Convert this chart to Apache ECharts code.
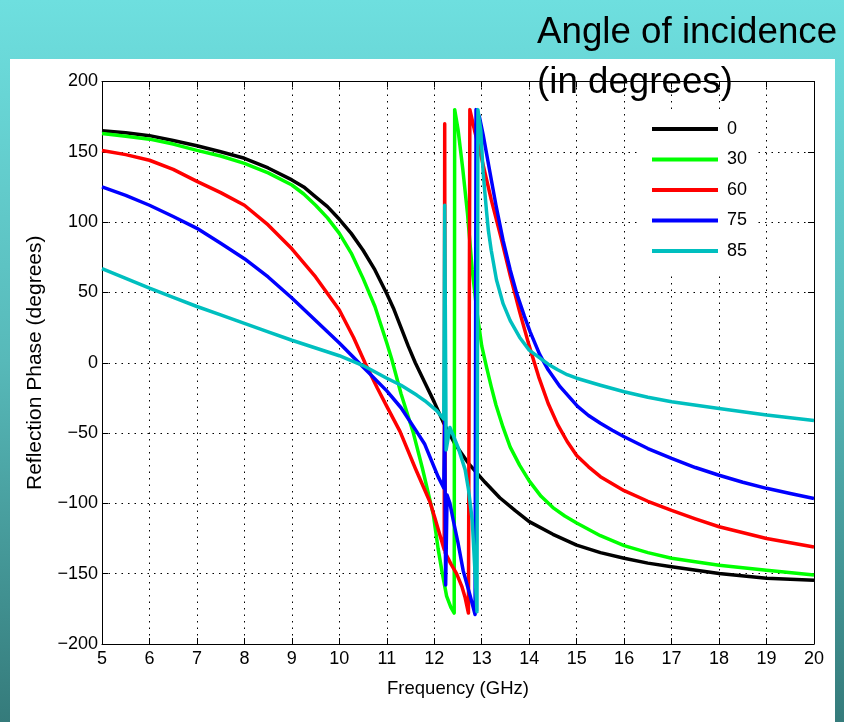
<!DOCTYPE html>
<html><head><meta charset="utf-8">
<script src="https://cdn.jsdelivr.net/npm/echarts@6/dist/echarts.min.js"></script>
<style>html,body{margin:0;padding:0;width:844px;height:722px;overflow:hidden}#c{width:844px;height:722px}</style>
</head><body><div id="c"></div>
<script>
// Tick values
const xTicks = [5,6,7,8,9,10,11,12,13,14,15,16,17,18,19,20];
const yTicks = [-200,-150,-100,-50,0,50,100,150,200];

// Series names (angle of incidence) and colours
const seriesNames = ['0','30','60','75','85'];
const seriesColors = ['#000000','#00ff00','#ff0000','#0000ff','#00bfbf'];

// 0 degrees
const freq0 = [5,5.5,6,6.5,7,7.5,8,8.5,9,9.25,9.5,9.75,10,10.25,10.5,10.75,11,11.15,11.3,11.45,11.6,11.8,12.0,12.2,12.44,12.72,13.07,13.38,13.7,14,14.5,15,15.5,16,16.5,17,18,19,20];
const phase0 = [165,163.5,161.5,158,154.3,150,145.4,138.5,130,125,118,111,102,92,80,66,49,38,25,12,0,-14,-28,-43,-58,-71.5,-85,-96,-105,-113,-122,-129.7,-135,-139,-142.5,-145,-149.8,-153.3,-154.6];

// 30 degrees
const freq30 = [5,5.5,6,6.5,7,7.5,8,8.5,9,9.25,9.5,9.75,10,10.25,10.5,10.75,11,11.1,11.3,11.56,11.75,11.98,12.08,12.16,12.26,12.35,12.42,12.43,12.5,12.6,12.7,12.8,12.9,13.0,13.1,13.2,13.3,13.45,13.6,13.8,14.0,14.25,14.5,14.75,15,15.5,16,16.5,17,18,19,20];
const phase30 = [163,161,159,155.5,151,147,141.8,135,126.4,120,112,103,92,78,60,40,14,3,-22,-50,-75,-108,-132,-148,-166,-174,-178,180,166,138,106,66,36,12,-3,-17,-30,-46,-60,-73,-84,-95,-103,-109,-114,-123,-130,-135,-139,-144,-147.5,-151];

// 60 degrees
const freq60 = [5,5.5,6,6.5,7,7.5,8,8.5,9,9.5,10,10.3,10.54,10.8,11,11.28,11.6,11.91,12.01,12.21,12.22,12.23,12.35,12.47,12.58,12.65,12.72,12.75,12.85,13.0,13.2,13.4,13.6,13.8,14.0,14.2,14.4,14.6,14.8,15,15.25,15.5,16,16.5,17,17.5,18,19,20];
const phase60 = [151,148,144,137.5,129,121,112,98,81,61,37.5,18,0,-18,-31,-49,-75,-99,-110,-133,170,-135,-143,-150,-159,-167,-178,180,165,145,116,90,62,36,12,-10,-29,-44,-56,-66,-74,-81,-91,-98.5,-105,-111,-116.6,-125,-131];

// 75 degrees
const freq75 = [5,5.5,6,6.5,7,7.5,8,8.5,9,9.5,10,10.5,11,11.3,11.63,11.8,12.08,12.2,12.22,12.24,12.27,12.33,12.4,12.5,12.61,12.75,12.86,12.88,12.95,13.03,13.17,13.3,13.45,13.6,13.74,13.9,14.02,14.22,14.4,14.65,15.02,15.25,15.5,15.75,16,16.5,17,17.5,18,18.5,19,19.5,20];
const phase75 = [125,119,112,104,95.6,85,74,61,46,30,14,-3,-20,-32,-49,-58,-81,-89,-40,-158,-94,-100,-112,-128,-148,-165,-179,180,175,162,136,112,87,66,49,33,22,6,-5,-17,-31,-37.5,-43,-48,-52.6,-61,-68,-74.5,-80,-85,-89.3,-93,-96.5];

// 85 degrees
const freq85 = [5,5.5,6,6.5,7,7.5,8,8.5,9,9.5,10,10.5,11,11.3,11.63,11.8,12.05,12.2,12.22,12.25,12.33,12.5,12.65,12.72,12.8,12.86,12.9,12.92,12.98,13.03,13.1,13.14,13.2,13.31,13.45,13.6,13.8,14.0,14.2,14.4,14.6,14.8,15,15.5,16,16.5,17,18,19,20];
const phase85 = [67,60,53,46.5,40,34,28,22,16,10.5,5,-2,-11,-16,-23,-27,-34,-40,112,-62,-46,-60,-76,-90,-112,-150,-177,180,165,135,108,94,80,59,42,30,18,9,4,-1,-5,-8.5,-11,-16,-20.6,-24.5,-27.7,-32.5,-37.2,-41];

const freqs = [freq0,freq30,freq60,freq75,freq85];
const phases = [phase0,phase30,phase60,phase75,phase85];

const FONT = '"Liberation Sans", Arial, Helvetica, sans-serif';
const minus = v => String(v).replace('-', '\u2212');

const chart = echarts.init(document.getElementById('c'), null, {renderer:'canvas'});

const series = seriesNames.map((name,i) => ({
  name: name,
  type: 'line',
  xAxisIndex: 0, yAxisIndex: 0,
  showSymbol: false,
  symbol: 'none',
  animation: false,
  lineStyle: {color: seriesColors[i], width: 3.5, join:'round'},
  itemStyle: {color: seriesColors[i]},
  data: freqs[i].map((f,k) => [f, phases[i][k]]),
  z: 2 + i
}));

const dotted = {type:[1.5,5], color:'#000', width:1};
const xMin = xTicks[0], xMax = xTicks[xTicks.length-1], xInt = xTicks[1]-xTicks[0];
const yMin = yTicks[0], yMax = yTicks[yTicks.length-1], yInt = yTicks[1]-yTicks[0];

const option = {
  animation: false,
  backgroundColor: {type:'linear', x:0, y:0, x2:0, y2:1, colorStops:[
    {offset:0, color:'#6edfdf'}, {offset:0.5, color:'#57b9b9'}, {offset:1, color:'#357b7b'}]},
  graphic: [
    {type:'rect', shape:{x:10, y:59, width:825, height:663}, style:{fill:'#ffffff'}, z:-1},
    {type:'text', x:537, y:15, scaleX:1.02, z:100, style:{text:'Angle of incidence', font:'36px ' + FONT, fill:'#000', align:'left', verticalAlign:'top'}},
    {type:'text', x:537, y:65, scaleX:1.02, z:100, style:{text:'(in degrees)', font:'36px ' + FONT, fill:'#000', align:'left', verticalAlign:'top'}}
  ],
  grid: {left:102, right:30, top:81.5, bottom:78, containLabel:false},
  legend: {
    data: seriesNames, orient:'vertical', left:637, top:110,
    padding:[9, 10, 15, 15], itemGap:10.5, itemWidth:66, itemHeight:4,
    icon:'rect', backgroundColor:'#ffffff', borderWidth:0,
    textStyle:{color:'#000', fontSize:18, fontFamily:FONT, padding:[0,0,0,4], lineHeight:20}
  },
  xAxis: [
    {type:'value', min:xMin, max:xMax, interval:xInt, position:'bottom',
     name:'Frequency (GHz)', nameLocation:'middle', nameGap:35,
     nameTextStyle:{color:'#000', fontSize:18.5, fontFamily:FONT},
     axisLine:{show:true, onZero:false, lineStyle:{color:'#000', width:1}},
     axisTick:{show:true, inside:true, length:6, lineStyle:{color:'#000'}},
     axisLabel:{color:'#000', fontSize:18, fontFamily:FONT, margin:6},
     splitLine:{show:true, lineStyle:dotted}},
    {type:'value', min:xMin, max:xMax, interval:xInt, position:'top',
     axisLine:{show:true, onZero:false, lineStyle:{color:'#000', width:1}},
     axisTick:{show:true, inside:true, length:6, lineStyle:{color:'#000'}},
     axisLabel:{show:false}, splitLine:{show:false}}
  ],
  yAxis: [
    {type:'value', min:yMin, max:yMax, interval:yInt, position:'left',
     name:'Reflection Phase (degrees)', nameLocation:'middle', nameGap:56,
     nameTextStyle:{color:'#000', fontSize:21, fontFamily:FONT},
     axisLine:{show:true, onZero:false, lineStyle:{color:'#000', width:1}},
     axisTick:{show:true, inside:true, length:6, lineStyle:{color:'#000'}},
     axisLabel:{color:'#000', fontSize:18, fontFamily:FONT, margin:4, formatter:minus},
     splitLine:{show:true, lineStyle:dotted}},
    {type:'value', min:yMin, max:yMax, interval:yInt, position:'right',
     axisLine:{show:true, onZero:false, lineStyle:{color:'#000', width:1}},
     axisTick:{show:true, inside:true, length:6, lineStyle:{color:'#000'}},
     axisLabel:{show:false}, splitLine:{show:false}}
  ],
  series: series
};
chart.setOption(option);
</script>
</body></html>
